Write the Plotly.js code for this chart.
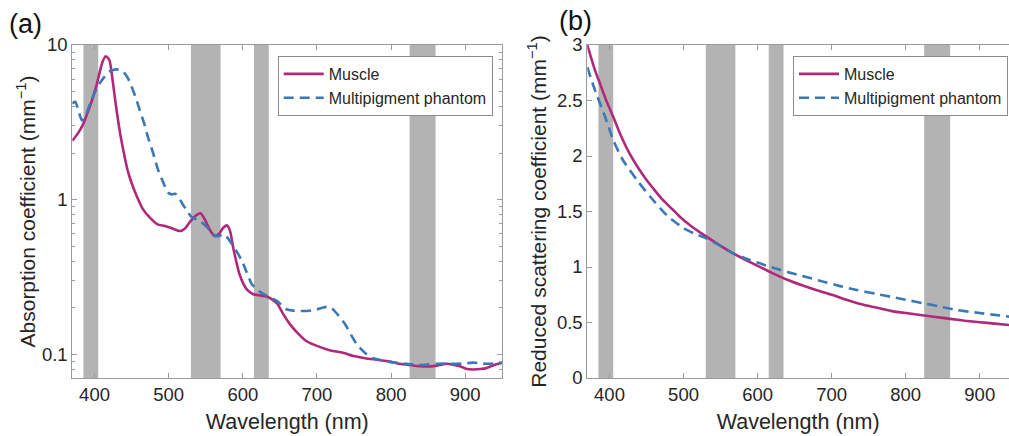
<!DOCTYPE html>
<html>
<head>
<meta charset="utf-8">
<script src="https://cdn.plot.ly/plotly-3.0.1.min.js"></script>
<style>html,body{margin:0;padding:0;background:#fff;}#chart{width:1009px;height:436px;}</style>
</head>
<body>
<div id="chart"></div>
<script>
// ---- (a) absorption coefficient, mm^-1 ----
const absMuscleWl = [370,378,385,392,398,404,410,415,420,425,430,435,440,445,450,457,465,475,485,495,505,515,522,530,537,543,549,556,562,568,574,579,583,587,591,595,600,606,614,622,632,640,647,655,664,675,686,700,717,735,750,765,780,795,812,825,839,850,857,866,875,885,893,902,912,920,928,935,942,950];
const absMuscle = [2.40,2.70,3.10,3.80,4.60,5.80,7.60,8.45,8.00,5.60,3.70,2.60,1.95,1.52,1.28,1.05,0.87,0.76,0.69,0.675,0.65,0.625,0.65,0.73,0.79,0.815,0.74,0.63,0.58,0.60,0.66,0.68,0.62,0.49,0.40,0.335,0.29,0.26,0.244,0.24,0.236,0.225,0.21,0.18,0.155,0.135,0.121,0.113,0.106,0.102,0.097,0.094,0.092,0.090,0.0865,0.085,0.0835,0.083,0.0835,0.085,0.0865,0.085,0.0835,0.080,0.0795,0.080,0.081,0.0835,0.086,0.088];

const absPhantomWl = [370,374,378,383,388,394,400,407,413,419,425,430,435,439,445,450,456,461,467,472,479,486,493,499,504,509,514,520,525,531,537,542,548,556,562,568,574,580,587,593,599,605,612,620,628,637,646,652,659,668,677,686,695,704,713,720,728,738,746,754,761,767,776,786,798,810,821,832,843,852,862,875,889,900,911,920,929,940,950];
const absPhantom = [4.18,4.30,3.80,3.25,3.50,4.18,4.90,5.64,6.20,6.70,6.90,6.95,6.85,6.70,6.10,5.36,4.50,3.78,3.10,2.54,2.00,1.54,1.28,1.11,1.08,1.09,1.02,0.914,0.84,0.77,0.745,0.73,0.69,0.63,0.585,0.58,0.598,0.56,0.50,0.45,0.40,0.34,0.284,0.26,0.244,0.232,0.221,0.208,0.195,0.191,0.19,0.19,0.192,0.197,0.202,0.198,0.18,0.156,0.133,0.115,0.106,0.0996,0.094,0.0915,0.089,0.0875,0.0865,0.0855,0.085,0.0858,0.0865,0.0868,0.0865,0.087,0.088,0.087,0.0865,0.087,0.088];

// ---- (b) reduced scattering coefficient, mm^-1 ----
const scatMuscleWl = [370,380,387,395,405,415,427,440,450,460,472,485,495,510,531,550,567,585,600,620,640,660,680,700,720,740,760,780,800,820,840,860,880,900,920,940];
const scatMuscle = [3.00,2.78,2.655,2.51,2.354,2.19,2.024,1.88,1.784,1.70,1.604,1.52,1.453,1.37,1.273,1.19,1.123,1.06,1.01,0.945,0.885,0.835,0.79,0.75,0.705,0.665,0.635,0.605,0.585,0.568,0.55,0.533,0.516,0.503,0.49,0.477];

const scatPhantomWl = [370,380,394,405,418,437,455,477,500,515,531,550,567,585,603,620,640,660,689,710,734,760,779,800,824,845,869,900,940];
const scatPhantom = [2.80,2.60,2.354,2.144,1.964,1.784,1.633,1.468,1.35,1.30,1.258,1.19,1.123,1.075,1.033,0.995,0.955,0.92,0.868,0.83,0.793,0.758,0.733,0.705,0.673,0.645,0.613,0.585,0.553];

// ---- highlighted wavelength bands (nm) ----
const bandStart = [385,530,615,825];
const bandEnd   = [405,570,635,860];

const seriesNames = ['Muscle','Multipigment phantom'];
const absTicks = [0.1,1,10];
const absTickText = ['0.1','1','10'];
const absMinor = [0.07,0.08,0.09,0.2,0.3,0.4,0.5,0.6,0.7,0.8,0.9,2,3,4,5,6,7,8,9];
const scatTicks = [0,0.5,1,1.5,2,2.5,3];
const scatTickText = ['0','0.5','1','1.5','2','2.5','3'];
const wlTicks = [400,500,600,700,800,900];

const MAG = '#b0287a', BLUE = '#3b78b6', BAND = '#b3b3b3';
const LINECOL = '#9b9b9b', TXT = '#262626';
const FONT = 'Liberation Sans, Arial, Helvetica, sans-serif';

const traces = [
  {x: absMuscleWl, y: absMuscle, name: seriesNames[0], xaxis:'x', yaxis:'y', legend:'legend',
   mode:'lines', line:{color:MAG, width:2.6, shape:'spline', smoothing:0.6}},
  {x: absPhantomWl, y: absPhantom, name: seriesNames[1], xaxis:'x', yaxis:'y', legend:'legend',
   mode:'lines', line:{color:BLUE, width:2.6, dash:'10px,6px', shape:'spline', smoothing:0.6}},
  {x: scatMuscleWl, y: scatMuscle, name: seriesNames[0], xaxis:'x2', yaxis:'y2', legend:'legend2',
   mode:'lines', line:{color:MAG, width:2.6, shape:'spline', smoothing:0.6}},
  {x: scatPhantomWl, y: scatPhantom, name: seriesNames[1], xaxis:'x2', yaxis:'y2', legend:'legend2',
   mode:'lines', line:{color:BLUE, width:2.6, dash:'10px,6px', shape:'spline', smoothing:0.6}}
];

const shapes = [];
bandStart.forEach((s,i)=>{
  ['',"2"].forEach(k=>{
    shapes.push({type:'rect', xref:'x'+k, yref:'y'+k+' domain', x0:s, x1:bandEnd[i], y0:0, y1:1,
      fillcolor:BAND, line:{width:0}, layer:'below'});
  });
});

const W = 1009, H = 436;
const yDom = [1-378/H, 1-45/H];
const axFont = {family:FONT, size:18.5, color:TXT};
const titleFont = {family:FONT, size:21, color:TXT};

function xAx(dom, range, anchor){
  return {domain:dom, range:range, anchor:anchor, tickvals:wlTicks, ticks:'inside', ticklen:5,
    tickcolor:LINECOL, showline:true, linecolor:LINECOL, linewidth:1, mirror:'ticks',
    showgrid:false, zeroline:false, tickfont:axFont,
    title:{text:'Wavelength (nm)', font:{family:FONT, size:21.5, color:TXT}, standoff:9}, automargin:false};
}

const layout = {
  width:W, height:H, margin:{l:0,r:0,t:0,b:0}, paper_bgcolor:'#fff', plot_bgcolor:'#fff',
  font:{family:FONT, color:TXT},
  xaxis: xAx([72.3/W, 502.3/W], [370,950], 'y'),
  xaxis2: xAx([587.3/W, 1], [370,939.5], 'y2'),
  yaxis: {domain:yDom, type:'log', range:[Math.log10(0.07), 1], anchor:'x',
    tickvals:absTicks, ticktext:absTickText, ticks:'inside', ticklen:5, tickcolor:LINECOL,
    minor:{tickvals:absMinor, ticks:'inside', ticklen:3, tickcolor:LINECOL, showgrid:false},
    showline:true, linecolor:LINECOL, linewidth:1, mirror:'ticks', showgrid:false, zeroline:false,
    tickfont:axFont, automargin:false,
    title:{text:'Absorption coefficient (mm<sup>−1</sup>)', font:titleFont, standoff:0}},
  yaxis2: {domain:yDom, range:[0,3], anchor:'x2', tickvals:scatTicks, ticktext:scatTickText,
    ticks:'inside', ticklen:5, tickcolor:LINECOL, showline:true, linecolor:LINECOL, linewidth:1,
    mirror:false, showgrid:false, zeroline:false, tickfont:axFont, automargin:false,
    title:{text:'Reduced scattering coefficient (mm<sup>−1</sup>)', font:titleFont, standoff:4}},
  shapes: shapes,
  showlegend:true,
  legend: {x:492.7/W, xanchor:'right', y:1-56/H, yanchor:'top', bgcolor:'#fff',
    bordercolor:'#8c8c8c', borderwidth:1, font:{family:FONT, size:16, color:TXT},
    itemwidth:40, tracegroupgap:0},
  legend2: {x:1008/W, xanchor:'right', y:1-56/H, yanchor:'top', bgcolor:'#fff',
    bordercolor:'#8c8c8c', borderwidth:1, font:{family:FONT, size:16, color:TXT},
    itemwidth:40, tracegroupgap:0},
  annotations: [
    {text:'(a)', xref:'paper', yref:'paper', x:7/W, y:1-24/H, xanchor:'left', yanchor:'middle',
     showarrow:false, font:{family:FONT, size:27, color:'#111'}},
    {text:'(b)', xref:'paper', yref:'paper', x:557/W, y:1-21/H, xanchor:'left', yanchor:'middle',
     showarrow:false, font:{family:FONT, size:27, color:'#111'}}
  ]
};

Plotly.newPlot('chart', traces, layout, {displayModeBar:false, staticPlot:true});
</script>
</body>
</html>
